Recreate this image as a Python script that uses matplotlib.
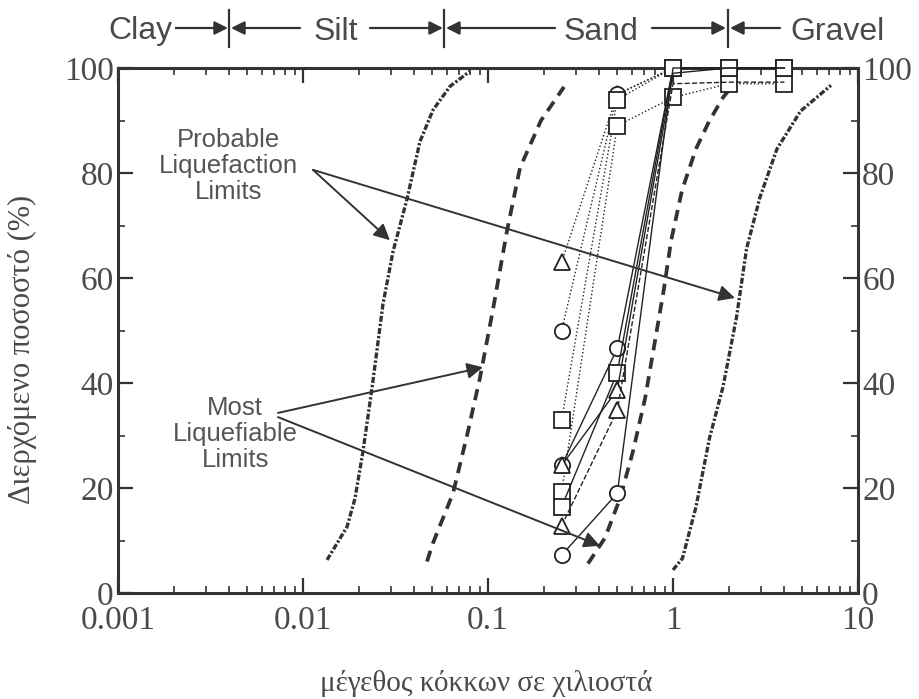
import matplotlib
matplotlib.use("Agg")
import matplotlib.pyplot as plt
from matplotlib.lines import Line2D
from matplotlib.patches import FancyArrowPatch
from matplotlib.ticker import LogLocator, NullFormatter, FixedLocator, FixedFormatter, MultipleLocator

# ---------------- data ----------------
sieve_mm = [0.25, 0.5, 1.0, 2.0, 4.0]

sample_1 = [63, 95, 100, 100, 100]
sample_2 = [50, 95, 100, 100, 100]
sample_3 = [33, 94, 100, 100, 100]
sample_4 = [19.3, 89, 94.4, 97, 97]
sample_5 = [24.3, 46.6, 100, 100, 100]
sample_6 = [16.4, 42, 100, 100, 100]
sample_7 = [24.3, 38.7, 99, 100, 100]
sample_8 = [12.8, 34.8, 97, 97.3, 97.3]
sample_9 = [7.2, 19, 100, 100, 100]
samples = [sample_1, sample_2, sample_3, sample_4, sample_5,
           sample_6, sample_7, sample_8, sample_9]
sample_markers = ['^', 'o', 's', 's', 'o', 's', '^', '^', 'o']
sample_styles = [':', ':', ':', ':', '-', '-', '-', '--', '-']

# boundary curves (grain size mm, percent passing)
prob_fine_mm = [0.01349, 0.01729, 0.01910, 0.02110, 0.02360, 0.02705,
                0.03064, 0.03648, 0.04288, 0.05043, 0.06233, 0.07990]
prob_fine_pct = [6.3, 12.6, 18, 27, 39, 55, 65, 75, 86, 92, 96.5, 99.4]

most_fine_mm = [0.0468, 0.0504, 0.0647, 0.0770, 0.0905, 0.1064, 0.1267,
                0.1490, 0.1934, 0.2575]
most_fine_pct = [6, 9.5, 19, 30, 41, 54, 69, 81, 90, 96.4]

most_coarse_mm = [0.3472, 0.4289, 0.517, 0.608, 0.7058, 0.7993, 0.8941,
                  0.9754, 1.1184, 1.3313, 1.5651, 1.864, 2.0843]
most_coarse_pct = [5.6, 10.5, 18, 27, 37, 48, 58, 67, 76.7, 84.6, 89.8, 94.4, 96.5]

prob_coarse_mm = [1.0, 1.125, 1.3313, 1.575, 1.864, 2.204, 2.499, 2.953,
                  3.649, 4.894, 7.145]
prob_coarse_pct = [4.4, 6.6, 16.4, 29.5, 39.3, 52.5, 65.6, 75.4, 84.6, 91.8, 96.7]

x_ticks = [0.001, 0.01, 0.1, 1, 10]
x_tick_labels = ['0.001', '0.01', '0.1', '1', '10']
y_ticks = [0, 20, 40, 60, 80, 100]
y_tick_labels = ['0', '20', '40', '60', '80', '100']

soil_labels = ['Clay', 'Silt', 'Sand', 'Gravel']

# ---------------- figure ----------------
W, H = 920, 699
fig = plt.figure(figsize=(W / 100, H / 100), dpi=100)
ax = fig.add_axes([118 / W, (H - 593) / H, (858 - 118) / W, (593 - 68) / H])

ink = '#333333'
txt = '#4a4a4a'
serif = ['Liberation Serif', 'DejaVu Serif']
sans = ['Liberation Sans', 'DejaVu Sans']

ax.set_xscale('log')
ax.set_xlim(0.001, 10)
ax.set_ylim(0, 100)

# boundary curves
dense = (0, (1.8, 0.6, 0.7, 0.6))
ax.plot(prob_fine_mm, prob_fine_pct, color=ink, lw=2.4, linestyle=dense, zorder=2)
ax.plot(prob_coarse_mm, prob_coarse_pct, color=ink, lw=2.4, linestyle=dense, zorder=2)
ax.plot(most_fine_mm, most_fine_pct, color=ink, lw=2.7,
        linestyle=(0, (3.0, 2.0)), zorder=2)
ax.plot(most_coarse_mm, most_coarse_pct, color=ink, lw=2.7,
        linestyle=(0, (3.0, 2.0)), zorder=2)

# samples
for vals, mk, ls in zip(samples, sample_markers, sample_styles):
    every = None if mk == 's' else [0, 1]
    ax.plot(sieve_mm, vals, color='#222222', lw=1.0, linestyle=ls,
            marker=mk, markersize=11, markerfacecolor='white', markevery=every,
            markeredgecolor='#222222', markeredgewidth=1.3, zorder=3,
            clip_on=False)

# ticks
ax.xaxis.set_major_locator(FixedLocator(x_ticks))
ax.xaxis.set_major_formatter(FixedFormatter(x_tick_labels))
ax.xaxis.set_minor_locator(LogLocator(base=10, subs=range(2, 10), numticks=20))
ax.xaxis.set_minor_formatter(NullFormatter())
ax.yaxis.set_major_locator(FixedLocator(y_ticks))
ax.yaxis.set_major_formatter(FixedFormatter(y_tick_labels))
ax.yaxis.set_minor_locator(MultipleLocator(10))

ax.tick_params(which='both', direction='in', top=True, right=True,
               labelright=True, color=ink)
ax.tick_params(which='major', length=11, width=1.6)
ax.tick_params(which='minor', length=5, width=1.2)
ax.tick_params(axis='x', which='major', pad=9)
ax.tick_params(axis='y', which='major', pad=3)
ax.tick_params(axis='both', labelsize=24, labelcolor=txt)
for lab in ax.get_xticklabels() + ax.get_yticklabels():
    lab.set_fontfamily(serif)

for sp in ax.spines.values():
    sp.set_color(ink)
    sp.set_linewidth(2.2)

ax.set_ylabel('Διερχόμενο ποσοστό (%)', fontsize=22, family=serif, color=txt)
ax.yaxis.set_label_coords(-0.110, 0.463)
ax.set_xlabel('μέγεθος κόκκων σε χιλιοστά', fontsize=21, family=serif, color=txt)
ax.xaxis.set_label_coords(0.497, -0.146)

# annotations inside axes
arrow_kw = dict(arrowstyle='-|>', mutation_scale=24, lw=1.4, color=ink,
                shrinkA=0, shrinkB=0)
ax.text(0.00394, 81.3, 'Probable\nLiquefaction\nLimits', ha='center',
        va='center', fontsize=18.5, family=sans, color='#555555', linespacing=1.12)
ax.annotate('', xy=(0.0295, 67.2), xytext=(0.01132, 80.6), arrowprops=arrow_kw)
ax.annotate('', xy=(2.163, 56.2), xytext=(0.01132, 80.6), arrowprops=arrow_kw)

ax.text(0.0043, 30.3, 'Most\nLiquefiable\nLimits', ha='center',
        va='center', fontsize=18.5, family=sans, color='#555555', linespacing=1.12)
ax.annotate('', xy=(0.0939, 43.0), xytext=(0.00733, 34.3), arrowprops=arrow_kw)
ax.annotate('', xy=(0.403, 9.0), xytext=(0.00733, 33.5), arrowprops=arrow_kw)

# top soil classification labels (figure pixel layout)
def fx(px):
    return px / W

def fy(py):
    return (H - py) / H

label_y = 28
for xb in [229, 444, 728]:
    fig.add_artist(Line2D([fx(xb), fx(xb)], [fy(10), fy(47)], color=ink, lw=1.6))

top_kw = dict(arrowstyle='-|>', mutation_scale=20, lw=1.6, color=ink,
              shrinkA=0, shrinkB=0)
for x0, x1 in [(172, 228), (300, 231), (370, 443), (555, 446), (652, 726), (780, 730)]:
    fig.add_artist(FancyArrowPatch((fx(x0), fy(label_y)), (fx(x1), fy(label_y)),
                                   transform=fig.transFigure, **top_kw))

for name, cx in zip(soil_labels, [140, 336, 601, 838]):
    fig.text(fx(cx), fy(label_y), name, ha='center', va='center_baseline',
             fontsize=23, family=sans, color='#4a4a4a',
             bbox=dict(facecolor='white', edgecolor='none', pad=2))

fig.savefig('out.png', dpi=100, facecolor='white')
